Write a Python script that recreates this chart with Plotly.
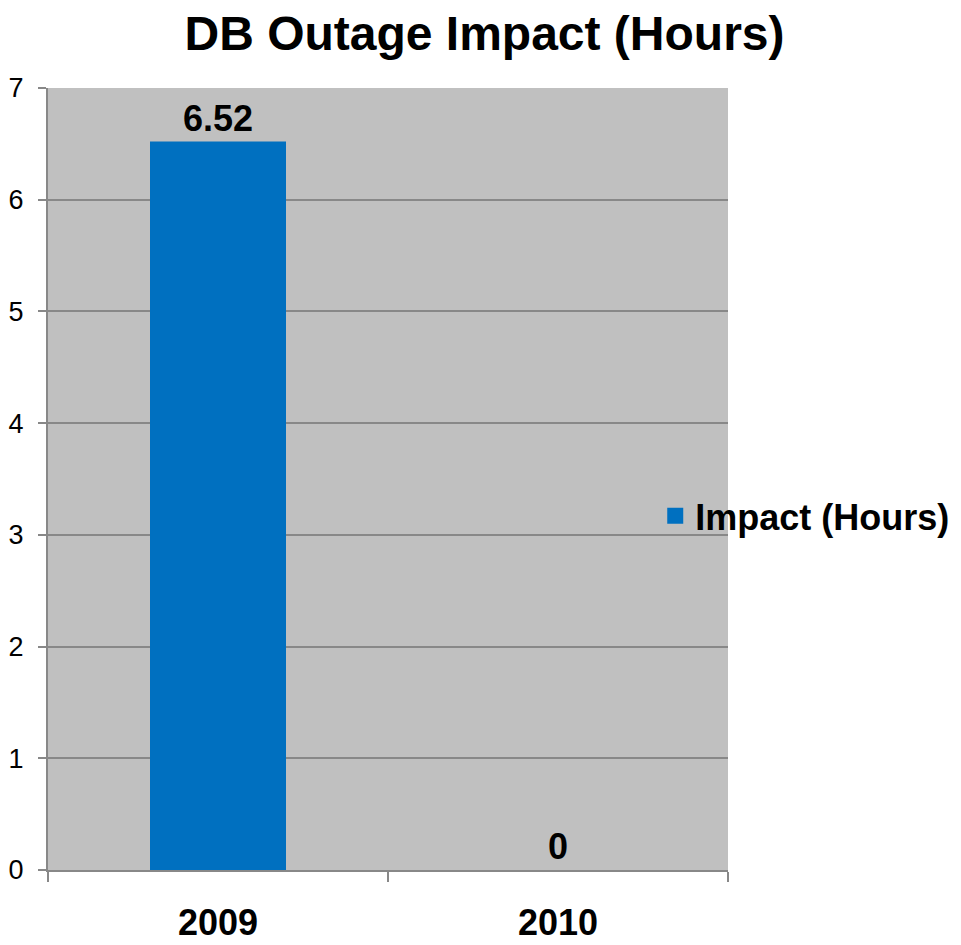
import plotly.graph_objects as go

categories = ["2009", "2010"]
impact_hours = [6.52, 0]
series_name = "Impact (Hours)"
y_ticks = [0, 1, 2, 3, 4, 5, 6, 7]

FONT = "Arial, 'Liberation Sans', sans-serif"
BAR_COLOR = "#0070C0"

fig = go.Figure()
fig.add_trace(go.Bar(
    x=categories,
    y=impact_hours,
    name=series_name,
    marker=dict(color=BAR_COLOR, line=dict(width=0)),
    text=[f"{v:g}" for v in impact_hours],
    textposition="outside",
    textfont=dict(family=FONT, size=36, color="black", weight="bold"),
    cliponaxis=False,
    showlegend=False,
))
# legend entry with a larger square swatch
fig.add_trace(go.Scatter(
    x=[None], y=[None],
    mode="markers",
    name=series_name,
    marker=dict(symbol="square", size=16, color=BAR_COLOR),
    showlegend=True,
    hoverinfo="skip",
))

fig.update_layout(
    width=953, height=937,
    margin=dict(l=40, r=233, t=80, b=75, autoexpand=False),
    paper_bgcolor="white",
    plot_bgcolor="#C0C0C0",
    bargap=0.6,
    title=dict(
        text="<b>DB Outage Impact (Hours)</b>",
        x=0.5, xanchor="center", xref="container",
        y=0.973, yanchor="middle", yref="container",
        font=dict(family=FONT, size=48, color="black"),
        automargin=False,
    ),
    showlegend=True,
    legend=dict(
        x=0.893, xanchor="left", y=0.453, yanchor="middle",
        bgcolor="rgba(0,0,0,0)",
        font=dict(family=FONT, size=36, color="black", weight="bold"),
        itemsizing="trace",
    ),
    xaxis=dict(
        type="category",
        automargin=False,
        tickson="boundaries",
        ticks="outside", ticklen=10, tickwidth=2, tickcolor="#888888",
        showline=True, linecolor="#888888", linewidth=2,
        showgrid=False,
        tickfont=dict(family=FONT, size=36, color="black", weight="bold"),
        ticklabelstandoff=20,
    ),
    yaxis=dict(
        range=[0, 7],
        automargin=False,
        tickvals=y_ticks,
        ticks="outside", ticklen=8, tickwidth=2, tickcolor="#888888",
        showline=True, linecolor="#888888", linewidth=2,
        showgrid=True, gridcolor="#888888", gridwidth=2,
        zeroline=False,
        tickfont=dict(family=FONT, size=27, color="black"),
        ticklabelstandoff=9,
    ),
)

fig.write_html("out.html")
